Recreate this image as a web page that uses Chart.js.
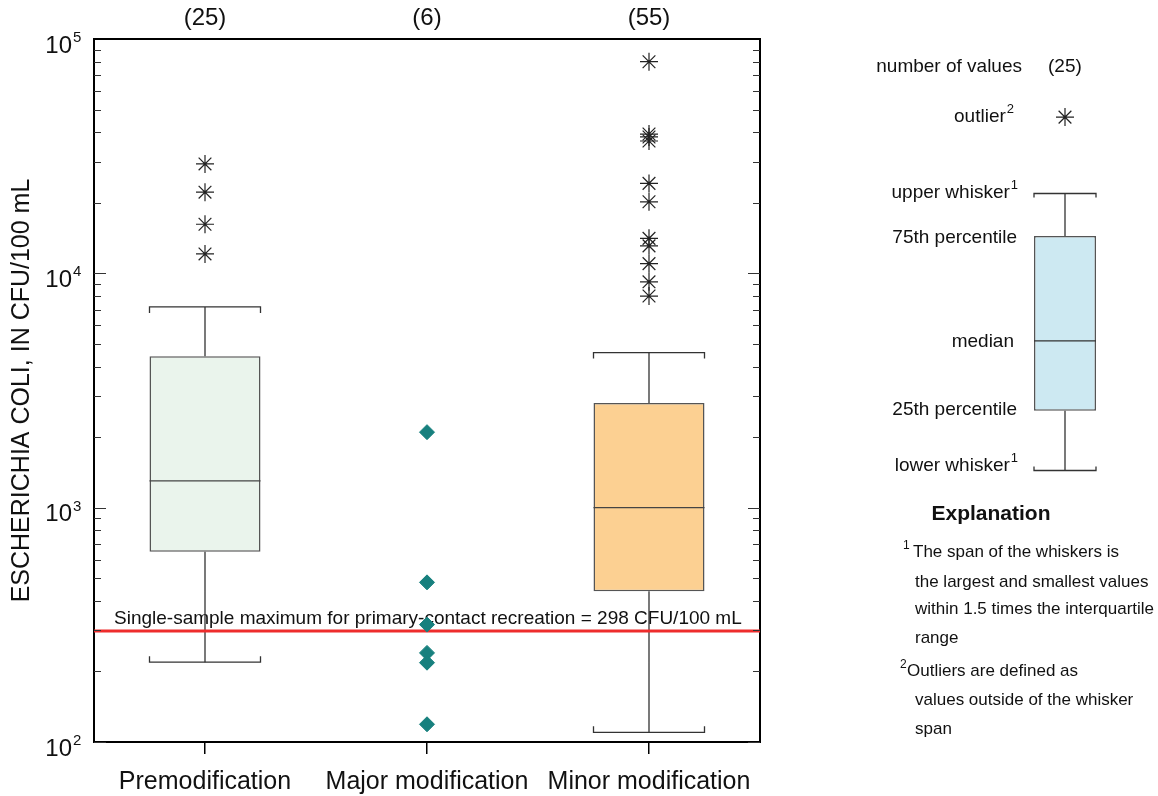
<!DOCTYPE html>
<html>
<head>
<meta charset="utf-8">
<title>Escherichia coli box plot</title>
<script src="https://cdn.jsdelivr.net/npm/chart.js@4.4.1/dist/chart.umd.min.js"></script>
<style>
body { margin: 0; background: #fff; }
#wrap { position: relative; width: 1158px; height: 796px; }
#mainChart { position: absolute; left: 0; top: 0; }
#keyChart { position: absolute; left: 1000px; top: 100px; }
</style>
</head>
<body>
<div id="wrap">
  <canvas id="mainChart" width="1158" height="796"></canvas>
  <canvas id="keyChart" width="130" height="380"></canvas>
</div>
<script>
// data
const categories = ['Premodification', 'Major modification', 'Minor modification'];
const counts = [25, 6, 55];
const lowerWhisker = [219, null, 110];
const q1 = [649, null, 440];
const median = [1300, null, 1000];
const q3 = [4430, null, 2800];
const upperWhisker = [7190, null, 4590];
const boxColors = ['#EAF4EC', 'rgba(0,0,0,0)', '#FCD092'];
const premodOutliers = [29300, 22200, 16200, 12100];
const majorValues = [2100, 480, 317, 240, 218, 119];
const minorOutliers = [80000, 39300, 38200, 36700, 24200, 20200, 14100, 13100, 11000, 9200, 8000];
const threshold = 298;
const yTickValues = [100, 1000, 10000, 100000];

// explanation sample (arbitrary units): lower, q1, median, q3, upper
const keyBox = [0.25, 1.82, 3.66, 6.42, 7.54];
const keyOutlier = 9.55;

const FONT = "'Liberation Sans', Arial, Helvetica, sans-serif";
Chart.defaults.font.family = FONT;
Chart.defaults.color = '#111';

const HALF = 0.25; // half box width in category units
const CAP = Math.pow(10, 6 / 234); // small end ticks of whisker caps

// build segment lists (null y = gap)
const whiskerData = [];
const capData = [];
const medianData = [];
categories.forEach((c, i) => {
    if (q1[i] == null) return;
    whiskerData.push({x: i, y: q3[i]}, {x: i, y: upperWhisker[i]}, {x: i, y: null});
    whiskerData.push({x: i, y: q1[i]}, {x: i, y: lowerWhisker[i]}, {x: i, y: null});
    capData.push({x: i - HALF, y: upperWhisker[i] / CAP}, {x: i - HALF, y: upperWhisker[i]},
        {x: i + HALF, y: upperWhisker[i]}, {x: i + HALF, y: upperWhisker[i] / CAP}, {x: i, y: null});
    capData.push({x: i - HALF, y: lowerWhisker[i] * CAP}, {x: i - HALF, y: lowerWhisker[i]},
        {x: i + HALF, y: lowerWhisker[i]}, {x: i + HALF, y: lowerWhisker[i] * CAP}, {x: i, y: null});
    medianData.push({x: i - HALF, y: median[i]}, {x: i + HALF, y: median[i]}, {x: i, y: null});
});

const lineStyle = {
    type: 'line', xAxisID: 'xLin', yAxisID: 'y',
    borderColor: '#333', borderWidth: 1.3, pointRadius: 0, fill: false, spanGaps: false
};
const starStyle = {
    type: 'scatter', xAxisID: 'xLin', yAxisID: 'y',
    pointStyle: 'star', pointRadius: 9, pointHoverRadius: 9,
    pointBorderColor: '#222', pointBorderWidth: 1.2, order: 0
};

const decorPlugin = {
    id: 'decor',
    beforeDatasetsDraw(chart) {
        const {ctx, chartArea, scales} = chart;
        const yPix = scales.y.getPixelForValue(threshold);
        ctx.save();
        ctx.font = '19px ' + FONT;
        ctx.fillStyle = '#111';
        ctx.textAlign = 'left';
        ctx.textBaseline = 'alphabetic';
        ctx.fillText('Single-sample maximum for primary-contact recreation = ' + threshold + ' CFU/100 mL',
            chartArea.left + 20, yPix - 7);
        ctx.restore();
    },
    afterDraw(chart) {
        const {ctx, chartArea, scales} = chart;
        const y = scales.y;
        ctx.save();
        // inward ticks on both y borders
        ctx.strokeStyle = '#333';
        ctx.lineWidth = 1.2;
        for (let e = 2; e < 5; e++) {
            for (let m = 1; m < 10; m++) {
                const p = Math.round(y.getPixelForValue(m * Math.pow(10, e))) + 0.5;
                const len = m === 1 ? 12 : 7;
                ctx.beginPath();
                ctx.moveTo(chartArea.left, p); ctx.lineTo(chartArea.left + len, p);
                ctx.moveTo(chartArea.right, p); ctx.lineTo(chartArea.right - len, p);
                ctx.stroke();
            }
        }
        // 10^n labels
        ctx.fillStyle = '#111';
        yTickValues.forEach(v => {
            const p = y.getPixelForValue(v);
            ctx.font = '24px ' + FONT;
            ctx.textAlign = 'right';
            ctx.textBaseline = 'middle';
            ctx.fillText('10', chartArea.left - 22, p + 7);
            ctx.font = '15px ' + FONT;
            ctx.textAlign = 'left';
            ctx.fillText(String(Math.round(Math.log10(v))), chartArea.left - 21, p - 1);
        });

        // explanation labels
        const keyLabels = [
            ['number of values', '', 1022, 67],
            ['outlier', '2', 1014, 117],
            ['upper whisker', '1', 1018, 193],
            ['75th percentile', '', 1017, 238],
            ['median', '', 1014, 342],
            ['25th percentile', '', 1017, 410],
            ['lower whisker', '1', 1018, 466]
        ];
        keyLabels.forEach(([text, sup, xr, yc]) => {
            ctx.font = '13px ' + FONT;
            const sw = sup ? ctx.measureText(sup).width + 1 : 0;
            ctx.textAlign = 'left';
            ctx.textBaseline = 'middle';
            if (sup) ctx.fillText(sup, xr - sw + 1, yc - 8);
            ctx.font = '19px ' + FONT;
            ctx.textAlign = 'right';
            ctx.fillText(text, xr - sw, yc);
        });
        ctx.font = '19px ' + FONT;
        ctx.textAlign = 'left';
        ctx.fillText('(' + counts[0] + ')', 1048, 67);

        ctx.font = 'bold 21px ' + FONT;
        ctx.textAlign = 'center';
        ctx.textBaseline = 'alphabetic';
        ctx.fillText('Explanation', 991, 520);

        const notes = [
            ['1', 'The span of the whiskers is', 903, 913, 557],
            ['', 'the largest and smallest values', 0, 915, 587],
            ['', 'within 1.5 times the interquartile', 0, 915, 614],
            ['', 'range', 0, 915, 643],
            ['2', 'Outliers are defined as', 900, 907, 676],
            ['', 'values outside of the whisker', 0, 915, 705],
            ['', 'span', 0, 915, 734]
        ];
        ctx.textAlign = 'left';
        notes.forEach(([sup, text, xs, xt, yb]) => {
            if (sup) {
                ctx.font = '12px ' + FONT;
                ctx.fillText(sup, xs, yb - 8);
            }
            ctx.font = '17px ' + FONT;
            ctx.fillText(text, xt, yb);
        });
        ctx.restore();
    }
};

new Chart(document.getElementById('mainChart'), {
    type: 'bar',
    data: {
        labels: categories,
        datasets: [
            Object.assign({}, starStyle, {data: premodOutliers.map(v => ({x: 0, y: v}))}),
            Object.assign({}, starStyle, {data: minorOutliers.map(v => ({x: 2, y: v}))}),
            {
                type: 'scatter', xAxisID: 'xLin', yAxisID: 'y',
                data: majorValues.map(v => ({x: 1, y: v})),
                pointStyle: 'rectRot', pointRadius: 7.5, pointHoverRadius: 7.5,
                pointBackgroundColor: '#17807E', pointBorderColor: '#17807E', pointBorderWidth: 1,
                order: 0
            },
            Object.assign({}, lineStyle, {
                data: [{x: -0.5, y: threshold}, {x: 2.5, y: threshold}],
                borderColor: '#EE2C2C', borderWidth: 3, order: 1
            }),
            Object.assign({}, lineStyle, {data: medianData, borderColor: '#444', order: 2}),
            Object.assign({}, lineStyle, {data: whiskerData, order: 2}),
            Object.assign({}, lineStyle, {data: capData, order: 2}),
            {
                type: 'bar', xAxisID: 'x', yAxisID: 'y',
                data: q1.map((v, i) => v == null ? null : [v, q3[i]]),
                backgroundColor: boxColors,
                borderColor: '#555', borderWidth: 1.5, borderSkipped: false,
                grouped: false, barPercentage: 0.5, categoryPercentage: 1, order: 3
            }
        ]
    },
    options: {
        responsive: false,
        animation: false,
        devicePixelRatio: 1,
        layout: {padding: 0, autoPadding: false},
        plugins: {legend: {display: false}, tooltip: {enabled: false}},
        scales: {
            x: {
                type: 'category', position: 'bottom', offset: true,
                grid: {display: true, drawOnChartArea: false, drawTicks: true, tickLength: 12, offset: false, color: '#000', lineWidth: 1.5},
                border: {display: true, color: '#000', width: 2},
                ticks: {color: '#111', font: {size: 25}, padding: 13, maxRotation: 0, autoSkip: false},
                afterFit(s) { s.height = 54; }
            },
            xTop: {
                type: 'category', position: 'top', offset: true,
                labels: counts.map(n => '(' + n + ')'),
                grid: {display: false, drawTicks: false},
                border: {display: true, color: '#000', width: 2},
                ticks: {color: '#111', font: {size: 24}, padding: 6},
                afterFit(s) { s.height = 39; }
            },
            xLin: {type: 'linear', min: -0.5, max: 2.5, offset: false, display: false},
            y: {
                type: 'logarithmic', position: 'left', min: 100, max: 100000,
                grid: {display: false, drawTicks: false},
                border: {display: true, color: '#000', width: 2},
                ticks: {display: false},
                title: {display: true, text: 'ESCHERICHIA COLI, IN CFU/100 mL', color: '#111', font: {size: 25}, padding: {top: 7, bottom: 0}},
                afterFit(s) { s.width = 94; }
            },
            yRight: {
                type: 'logarithmic', position: 'right', min: 100, max: 100000,
                grid: {display: false, drawTicks: false},
                border: {display: true, color: '#000', width: 2},
                ticks: {display: false},
                afterFit(s) { s.width = 398; }
            }
        }
    },
    plugins: [decorPlugin]
});

// explanation sample box
const keyHalf = 31 / 130;
const keyCap = 0.105;
new Chart(document.getElementById('keyChart'), {
    type: 'bar',
    data: {
        labels: [''],
        datasets: [
            {
                type: 'scatter', xAxisID: 'xLin', yAxisID: 'y',
                data: [{x: 0, y: keyOutlier}],
                pointStyle: 'star', pointRadius: 9, pointBorderColor: '#222', pointBorderWidth: 1.2,
                order: 0
            },
            Object.assign({}, lineStyle, {
                data: [
                    {x: -keyHalf, y: keyBox[2]}, {x: keyHalf, y: keyBox[2]}, {x: 0, y: null},
                    {x: 0, y: keyBox[3]}, {x: 0, y: keyBox[4]}, {x: 0, y: null},
                    {x: 0, y: keyBox[1]}, {x: 0, y: keyBox[0]}, {x: 0, y: null},
                    {x: -keyHalf, y: keyBox[4] - keyCap}, {x: -keyHalf, y: keyBox[4]},
                    {x: keyHalf, y: keyBox[4]}, {x: keyHalf, y: keyBox[4] - keyCap}, {x: 0, y: null},
                    {x: -keyHalf, y: keyBox[0] + keyCap}, {x: -keyHalf, y: keyBox[0]},
                    {x: keyHalf, y: keyBox[0]}, {x: keyHalf, y: keyBox[0] + keyCap}
                ],
                order: 1
            }),
            {
                type: 'bar', xAxisID: 'x', yAxisID: 'y',
                data: [[keyBox[1], keyBox[3]]],
                backgroundColor: '#CDE9F2', borderColor: '#555', borderWidth: 1.5, borderSkipped: false,
                grouped: false, barPercentage: 62 / 130, categoryPercentage: 1, order: 2
            }
        ]
    },
    options: {
        responsive: false,
        animation: false,
        devicePixelRatio: 1,
        layout: {padding: 0, autoPadding: false},
        plugins: {legend: {display: false}, tooltip: {enabled: false}},
        scales: {
            x: {display: false, offset: true},
            xLin: {type: 'linear', min: -0.5, max: 0.5, offset: false, display: false},
            y: {type: 'linear', min: 0, max: 10, display: false}
        }
    }
});
</script>
</body>
</html>
